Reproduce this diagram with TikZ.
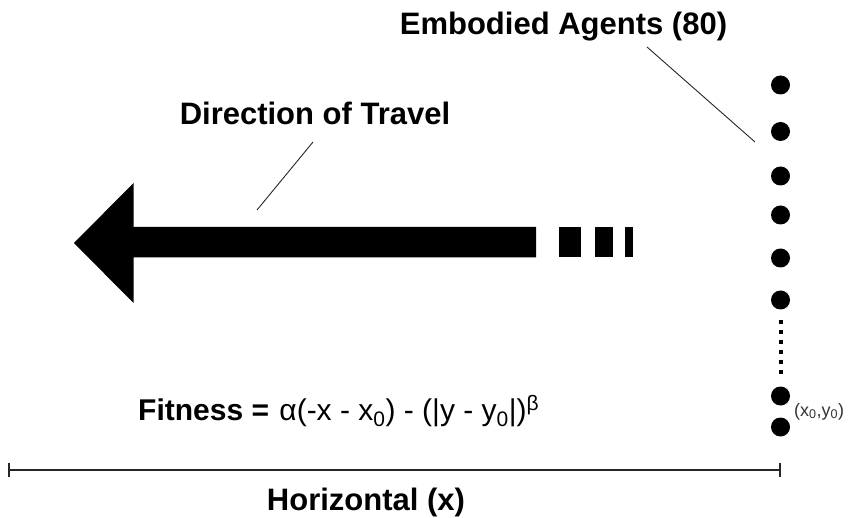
\documentclass[tikz,border=0pt]{standalone}
\usepackage{fontspec}
\setmainfont{Liberation Sans}
\usetikzlibrary{arrows.meta}
\begin{document}
\begin{tikzpicture}[x=1pt,y=-1pt,
  label/.style={inner sep=0pt,font=\fontsize{31}{36}\selectfont\bfseries},
  agent/.style={circle,fill=black,inner sep=0pt,minimum size=19pt},
  leader/.style={line width=0.9pt,black!85},
  blockpart/.style={fill=black}]
  \useasboundingbox (0,0) rectangle (851,518);

  % direction-of-travel arrow: head, shaft and trailing dashes
  \fill (74,243) -- (133.5,183) -- (133.5,227) -- (536,227) -- (536,257.5)
        -- (133.5,257.5) -- (133.5,303) -- cycle;
  \fill[blockpart] (558.5,227) rectangle (580.5,257.5);
  \fill[blockpart] (594.5,227) rectangle (612.5,257.5);
  \fill[blockpart] (625,227) rectangle (632.5,257.5);

  % labels
  \node[label,anchor=base] (emb) at (563.5,35) {Embodied Agents (80)};
  \node[label,anchor=base] (dir) at (315,125) {Direction of Travel};
  \node[inner sep=0pt,anchor=base west,font=\fontsize{30}{36}\selectfont] (fit) at (138,420)
    {\textbf{Fitness =}\hspace{2pt} α(-x - x\textsubscript{0}) - (|y - y\textsubscript{0}|)\textsuperscript{β}};
  \node[label,anchor=base] (hor) at (366,510) {Horizontal (x)};

  % leader lines
  \coordinate (embA) at (647,47);
  \coordinate (embB) at (755,142);
  \coordinate (dirA) at (313,142);
  \coordinate (dirB) at (257,210);
  \draw[leader] (embA) -- (embB);
  \draw[leader] (dirA) -- (dirB);

  % column of agents
  \foreach \i/\y in {1/85,2/131.5,3/176,4/215,5/258,6/300,7/396,8/427}
    \node[agent] (a\i) at (780.5,\y) {};
  \draw[line width=4pt,dash pattern=on 4pt off 6pt] (780.5,319.7) -- (780.5,376);

  % starting position label
  \node[inner sep=0pt,anchor=base west,text=black!80,font=\fontsize{18}{20}\selectfont] (org) at (794,416)
    {(x\textsubscript{0},y\textsubscript{0})};

  % horizontal axis
  \coordinate (axL) at (8,470);
  \coordinate (axR) at (781,470);
  \draw[line width=1.8pt,black!85,{Bar[width=14pt]}-{Bar[width=14pt]}] (axL) -- (axR);
\end{tikzpicture}
\end{document}
